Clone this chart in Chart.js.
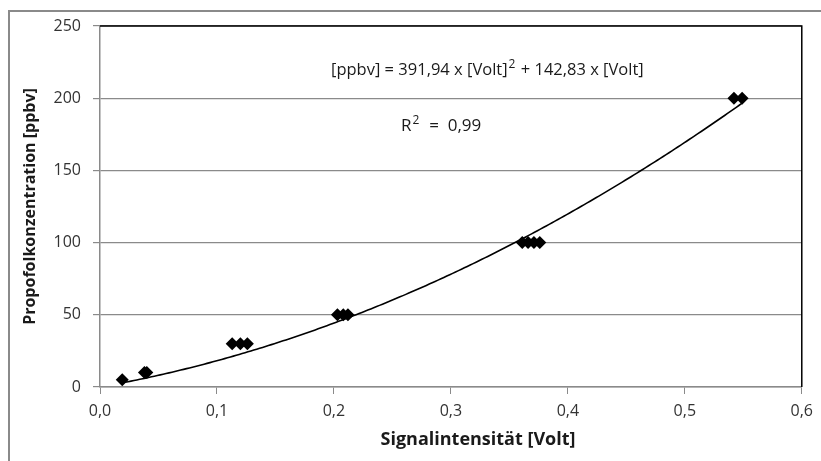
<!DOCTYPE html>
<html lang="de">
<head>
<meta charset="utf-8">
<title>Propofol Kalibrierung</title>
<script src="https://cdn.jsdelivr.net/npm/chart.js@4.4.1/dist/chart.umd.min.js"></script>
<style>
  html, body { margin: 0; padding: 0; background: #fff; }
  canvas { display: block; }
</style>
</head>
<body>
<canvas id="kalibrierung" width="821" height="461"></canvas>
<script>
// Messpunkte: Signal in Volt und zugehörige Konzentration in ppbv
const signalVolt = [0.019, 0.038, 0.040, 0.113, 0.120, 0.126, 0.203, 0.208, 0.212, 0.361, 0.366, 0.371, 0.376, 0.542, 0.549];
const konzPpbv = [5, 10, 10, 30, 30, 30, 50, 50, 50, 100, 100, 100, 100, 200, 200];

// Koeffizienten der quadratischen Ausgleichskurve
const koefQuad = 391.94;
const koefLin = 142.83;
const bestimmtheit = 0.99;

const xTicks = [0, 0.1, 0.2, 0.3, 0.4, 0.5, 0.6];
const yTicks = [0, 50, 100, 150, 200, 250];

const fmt = (v, d) => v.toFixed(d).replace(".", ",");

// Trendlinie über den Messbereich
const trendX = [];
for (let v = signalVolt[0]; v <= signalVolt[signalVolt.length - 1] + 1e-9; v += 0.005) trendX.push(v);
const trend = trendX.map((v) => ({ x: v, y: koefQuad * v * v + koefLin * v }));

const punkte = signalVolt.map((v, i) => ({ x: v, y: konzPpbv[i] }));

const schrift = "'Open Sans', 'DejaVu Sans', sans-serif";

// Text mit hochgestellter 2 an Position x schreiben, gibt neues x zurück
function mitHoch(c, vor, nach, x, base, gross) {
  c.font = gross + "px " + schrift;
  c.fillText(vor, x, base);
  x += c.measureText(vor).width + 1;
  c.font = Math.round(gross * 0.7) + "px " + schrift;
  c.fillText("2", x, base - 7);
  x += c.measureText("2").width + 1;
  c.font = gross + "px " + schrift;
  c.fillText(nach, x, base);
  return x + c.measureText(nach).width;
}

// Rahmen, Achsentitel und Gleichung zeichnen
const extras = {
  id: "extras",
  beforeDraw(chart) {
    const c = chart.ctx;
    c.save();
    c.strokeStyle = "#8a8a8a";
    c.lineWidth = 2;
    c.strokeRect(9, 11, 900, 900);
    c.restore();
  },
  afterDatasetsDraw(chart) {
    const c = chart.ctx;
    const a = chart.chartArea;
    c.save();
    // schwarze Umrandung oben und rechts
    c.strokeStyle = "#000";
    c.lineWidth = 1.5;
    c.beginPath();
    c.moveTo(a.left, a.top);
    c.lineTo(a.right, a.top);
    c.lineTo(a.right, a.bottom);
    c.stroke();

    c.fillStyle = "#1a1a1a";
    c.textAlign = "center";
    c.textBaseline = "middle";
    c.font = "bold 18px " + schrift;
    c.fillText("Signalintensität [Volt]", 478, 440);
    c.font = "bold 16px " + schrift;
    c.translate(30, (a.top + a.bottom) / 2);
    c.rotate(-Math.PI / 2);
    c.fillText("Propofolkonzentration [ppbv]", 0, 0);
    c.restore();

    c.save();
    c.fillStyle = "#1a1a1a";
    c.textBaseline = "alphabetic";
    c.textAlign = "left";
    mitHoch(c, "[ppbv] = " + fmt(koefQuad, 2) + " x [Volt]", " + " + fmt(koefLin, 2) + " x [Volt]", 331, 75, 16.5);
    mitHoch(c, "R", "  =  " + fmt(bestimmtheit, 2), 401, 131, 17);
    c.restore();
  },
};

new Chart(document.getElementById("kalibrierung"), {
  type: "scatter",
  data: {
    datasets: [
      {
        label: "Messwerte",
        data: punkte,
        pointStyle: "rectRot",
        pointRadius: 6.5,
        backgroundColor: "#000",
        borderColor: "#000",
        borderWidth: 0,
      },
      {
        label: "Trend",
        type: "line",
        data: trend,
        borderColor: "#000",
        borderWidth: 1.6,
        pointRadius: 0,
        tension: 0.3,
        fill: false,
      },
    ],
  },
  options: {
    responsive: false,
    animation: false,
    layout: { padding: { left: 0, top: 26, right: 15, bottom: 0 } },
    plugins: { legend: { display: false }, tooltip: { enabled: false } },
    scales: {
      x: {
        type: "linear",
        min: 0,
        max: 0.6,
        afterBuildTicks: (s) => { s.ticks = xTicks.map((v) => ({ value: v })); },
        afterFit: (s) => { s.height = 74; },
        grid: { drawOnChartArea: false, drawTicks: true, tickLength: 7, color: "#8a8a8a" },
        border: { color: "#8a8a8a", width: 1.5 },
        ticks: {
          padding: 8,
          color: "#333",
          font: { family: schrift, size: 16 },
          callback: (v) => fmt(v, 1),
        },
      },
      y: {
        min: 0,
        max: 250,
        afterBuildTicks: (s) => { s.ticks = yTicks.map((v) => ({ value: v })); },
        afterFit: (s) => { s.width = 100; },
        grid: { color: "#8a8a8a", lineWidth: 1.2, tickLength: 7 },
        border: { color: "#8a8a8a", width: 1.5 },
        ticks: {
          padding: 12,
          color: "#333",
          font: { family: schrift, size: 16 },
        },
      },
    },
  },
  plugins: [extras],
});
</script>
</body>
</html>
